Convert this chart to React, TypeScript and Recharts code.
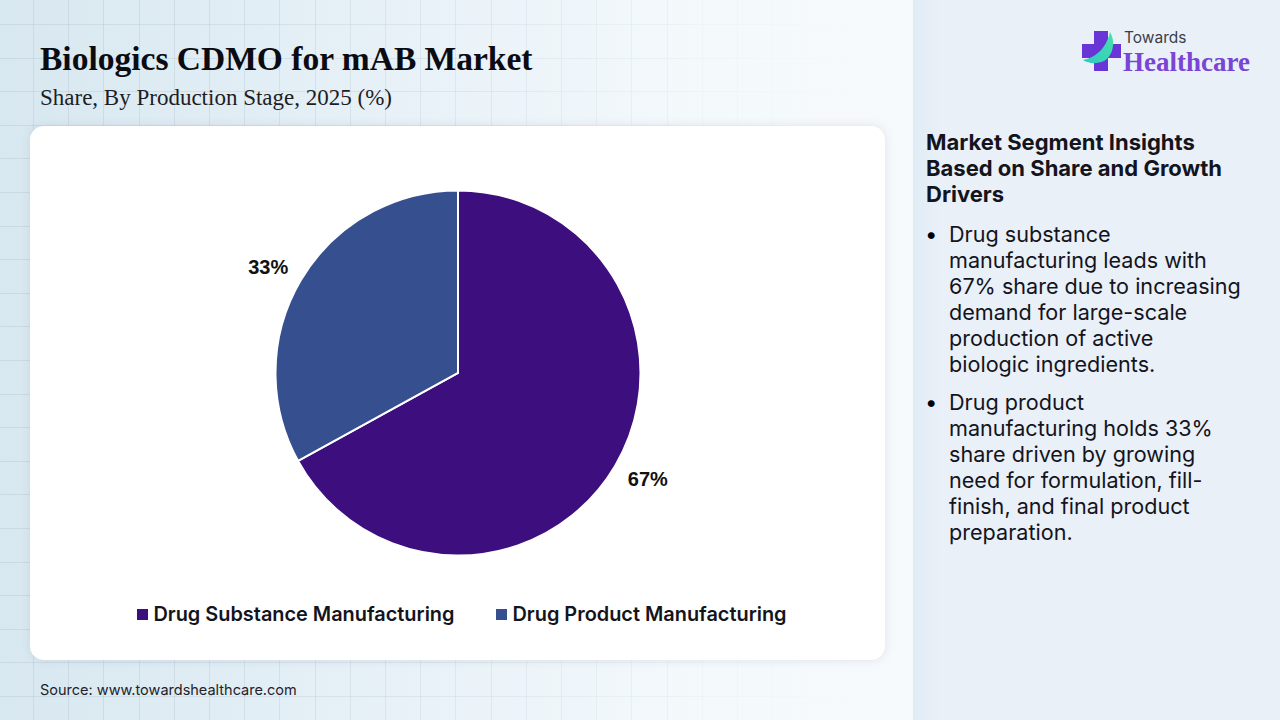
import React from 'react';
import { PieChart, Pie, Cell, Legend } from 'recharts';

const stages = ['Drug Substance Manufacturing', 'Drug Product Manufacturing'];
const shares = [67, 33];
const colors = ['#3d0f7e', '#364f8f'];

const insightTitle = ['Market Segment Insights', 'Based on Share and Growth', 'Drivers'];
const insightOne = [
  'Drug substance',
  'manufacturing leads with',
  '67% share due to increasing',
  'demand for large-scale',
  'production of active',
  'biologic ingredients.',
];
const insightTwo = [
  'Drug product',
  'manufacturing holds 33%',
  'share driven by growing',
  'need for formulation, fill-',
  'finish, and final product',
  'preparation.',
];

const chartData = stages.map((name, i) => ({ name, value: shares[i] }));

const sans = 'Inter, sans-serif';
const serif = '"Liberation Serif", serif';

const RAD = Math.PI / 180;

// outside labels, pushed out a bit further horizontally like the original
const renderLabel = ({ cx, cy, midAngle, outerRadius, value }: any) => {
  const x = cx + (outerRadius + 38) * Math.cos(-midAngle * RAD);
  const y = cy + (outerRadius + 26) * Math.sin(-midAngle * RAD);
  return (
    <text
      x={x}
      y={y}
      textAnchor="middle"
      dominantBaseline="central"
      fill="#111"
      fontFamily='"Liberation Sans", sans-serif'
      fontWeight={700}
      fontSize={20}
    >
      {`${value}%`}
    </text>
  );
};

const place = (left: number, top: number): React.CSSProperties => ({
  position: 'absolute',
  left,
  top,
  whiteSpace: 'nowrap',
});

const Lines = ({ lines, left, top, weight, size = 22 }: { lines: string[]; left: number; top: number; weight: number; size?: number }) => (
  <>
    {lines.map((line, i) => (
      <div
        key={line}
        style={{
          ...place(left, top + i * 26),
          fontFamily: sans,
          fontSize: size,
          lineHeight: '26px',
          fontWeight: weight,
          color: '#14141c',
        }}
      >
        {line}
      </div>
    ))}
  </>
);

const Logo = () => (
  <svg width={70} height={46} style={place(1080, 28)}>
    <defs>
      <linearGradient id="leaf" x1="0" y1="1" x2="1" y2="0">
        <stop offset="0%" stopColor="#2fc9c4" />
        <stop offset="100%" stopColor="#45e3a8" />
      </linearGradient>
    </defs>
    <path d="M14 3 H28 V16 H41 V30 H28 V43 H14 V30 H2 V16 H14 Z" fill="#6a35d6" />
    <path d="M3 32 C14 30 26 22 30 4 C36 14 33 28 24 33 C17 36 9 36 3 32 Z" fill="url(#leaf)" />
  </svg>
);

export default function App() {
  return (
    <div
      style={{
        position: 'absolute',
        left: 0,
        top: 0,
        width: 1280,
        height: 720,
        overflow: 'hidden',
        background: 'linear-gradient(90deg, #d8e8f0 0%, #e4eff6 25%, #f4f9fc 55%, #f9fbfe 100%)',
      }}
    >
      <style>{`.recharts-legend-item svg { position: relative; top: -3px; }`}</style>
      <div
        style={{
          position: 'absolute',
          left: 0,
          top: 0,
          width: 913,
          height: 720,
          backgroundImage:
            'repeating-linear-gradient(90deg, transparent 0 33px, rgba(180,198,208,0.42) 33px 34px, transparent 34px 35.2px), repeating-linear-gradient(180deg, transparent 0 24px, rgba(180,198,208,0.42) 24px 25px, transparent 25px 33.6px)',
          WebkitMaskImage: 'linear-gradient(90deg, #000 0%, rgba(0,0,0,0.7) 45%, rgba(0,0,0,0.1) 85%, transparent 100%)',
        }}
      />
      <div
        style={{
          position: 'absolute',
          left: 913,
          top: 0,
          width: 367,
          height: 720,
          background: 'linear-gradient(90deg, #e1ecf6 0%, #e9f0f8 8%, #e9f0f8 100%)',
        }}
      />

      <div style={{ ...place(40, 40), fontFamily: serif, fontWeight: 700, fontSize: 33.5, lineHeight: '38px', color: '#0b0b12' }}>
        Biologics CDMO for mAB Market
      </div>
      <div style={{ ...place(40, 85), fontFamily: serif, fontSize: 23, lineHeight: '26px', color: '#1d1d25' }}>
        Share, By Production Stage, 2025 (%)
      </div>

      <div
        style={{
          position: 'absolute',
          left: 30,
          top: 126,
          width: 855,
          height: 534,
          background: '#fff',
          borderRadius: 14,
          boxShadow: '0 0 10px rgba(120,130,150,0.18)',
        }}
      >
        <PieChart width={855} height={534} margin={{ top: 0, right: 0, bottom: 0, left: 0 }}>
          <Pie
            data={chartData}
            dataKey="value"
            nameKey="name"
            cx={428}
            cy={247}
            outerRadius={182.5}
            startAngle={90}
            endAngle={-270}
            stroke="#fff"
            strokeWidth={2}
            label={renderLabel}
            labelLine={false}
            isAnimationActive={false}
          >
            {chartData.map((entry, index) => (
              <Cell key={`cell-${index}`} fill={colors[index]} />
            ))}
          </Pie>
          <Legend
            verticalAlign="bottom"
            iconType="square"
            iconSize={11}
            itemSorter={null}
            wrapperStyle={{ left: 73, top: 476, width: 760, bottom: 'auto', textAlign: 'left' }}
            formatter={(value) => (
              <span style={{ color: '#14141c', fontFamily: sans, fontSize: 19.9, fontWeight: 600, marginLeft: 1, marginRight: 32 }}>{value}</span>
            )}
          />
        </PieChart>
      </div>

      <div style={{ ...place(40, 681), fontFamily: sans, fontSize: 14.5, lineHeight: '18px', color: '#22222a' }}>
        Source: www.towardshealthcare.com
      </div>

      <Logo />
      <div style={{ ...place(1124, 28), fontFamily: sans, fontSize: 15.5, lineHeight: '20px', color: '#3b3f4a' }}>Towards</div>
      <div style={{ ...place(1123, 46), fontFamily: serif, fontWeight: 700, fontSize: 27, lineHeight: '32px', color: '#7a45d6' }}>
        Healthcare
      </div>

      <Lines lines={insightTitle} left={926} top={129} weight={700} />
      <div style={{ ...place(925, 221), fontFamily: sans, fontSize: 22, lineHeight: '26px' }}>•</div>
      <Lines lines={insightOne} left={949} top={221} weight={400} size={21.6} />
      <div style={{ ...place(925, 389), fontFamily: sans, fontSize: 22, lineHeight: '26px' }}>•</div>
      <Lines lines={insightTwo} left={949} top={389} weight={400} size={21.6} />
    </div>
  );
}
